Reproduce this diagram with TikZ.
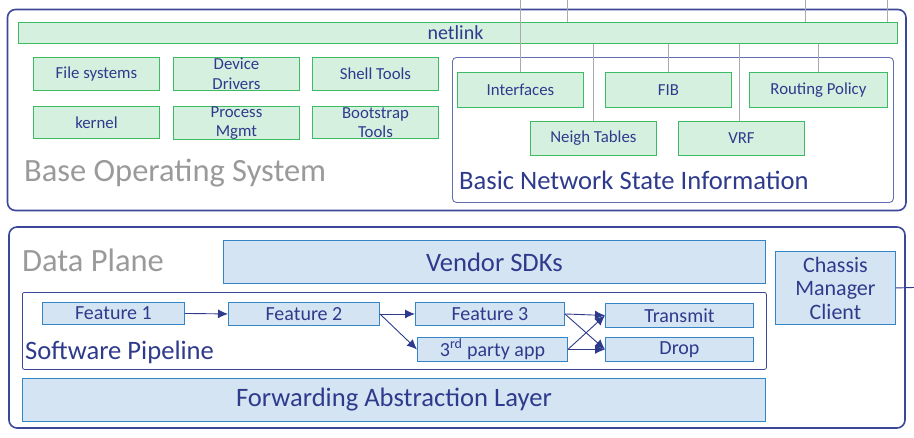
\documentclass[tikz,border=0pt]{standalone}
\usepackage{fontspec}
\setmainfont{Carlito}
\usetikzlibrary{arrows.meta}
\definecolor{dblue}{HTML}{2E3A8C}
\definecolor{frame}{HTML}{3B4899}
\definecolor{gfill}{HTML}{D6F0E0}
\definecolor{gline}{HTML}{3DBB64}
\definecolor{bfill}{HTML}{D5E4F3}
\definecolor{bline}{HTML}{3485C6}
\definecolor{graytxt}{HTML}{9A9A9A}
\definecolor{wire}{HTML}{AAAAAA}
\tikzset{
  outer/.style={draw=frame, line width=1.6pt, rounded corners=8pt},
  inner/.style={draw=frame!80, line width=0.9pt, rounded corners=4pt},
  gbox/.style={draw=gline, fill=gfill, line width=0.9pt, text=dblue, font=\fontsize{16.8}{19.5}\selectfont, align=center, inner sep=0pt},
  bbox/.style={draw=bline, fill=bfill, line width=0.9pt, text=dblue, align=center, inner sep=0pt},
  wireln/.style={draw=wire, line width=0.9pt},
  flow/.style={draw=dblue, line width=0.9pt, -{Latex[length=10pt,width=9pt]}},
  midfont/.style={font=\fontsize{20}{22}\selectfont},
  bigfont/.style={font=\fontsize{26.6}{28}\selectfont},
  grayfont/.style={font=\fontsize{32.5}{34}\selectfont},
}
\begin{document}
\begin{tikzpicture}[x=1pt,y=-1pt]
\useasboundingbox (0,0) rectangle (914,437);
% ---------- top section
\draw[outer] (7.5,9.5) rectangle (906,210.5);
\node[inner, minimum width=441pt, minimum height=145pt, anchor=north west] (bnsi) at (452,57) {};
\coordinate (t1) at (520,0);
\coordinate (t2) at (567,0);
\coordinate (t3) at (805,0);
\coordinate (t4) at (887,0);
% netlink
\node[gbox, minimum width=879pt, minimum height=21.6pt, anchor=north west] (netlink) at (18,21.7) {};
\node[text=dblue, font=\fontsize{20}{22}\selectfont, inner sep=0pt] (netlinkl) at (455.5,33) {netlink};
% left boxes
\node[gbox, minimum width=126pt, minimum height=33pt, anchor=north west] (fs) at (33,57) {File systems};
\node[gbox, minimum width=126pt, minimum height=33pt, anchor=north west] (dd) at (173,57) {Device\\Drivers};
\node[gbox, minimum width=126pt, minimum height=33pt, anchor=north west] (st) at (312,57) {Shell Tools};
\node[gbox, minimum width=126pt, minimum height=32pt, anchor=north west] (kn) at (33,106) {kernel};
\node[gbox, minimum width=126pt, minimum height=32pt, anchor=north west] (pm) at (173,106) {Process\\Mgmt};
\node[gbox, minimum width=126pt, minimum height=32pt, anchor=north west] (bt) at (312,106) {Bootstrap\\Tools};
\node[text=graytxt, grayfont, anchor=west, inner sep=0pt] (bos) at (24,173) {Base Operating System};
% network state boxes
\node[gbox, minimum width=126pt, minimum height=35pt, anchor=north west] (ifc) at (457,72) {Interfaces};
\node[gbox, minimum width=126pt, minimum height=35pt, anchor=north west] (fib) at (605,72) {FIB};
\node[gbox, minimum width=138pt, minimum height=35pt, anchor=north west] (rp) at (749,72) {Routing Policy};
\node[gbox, minimum width=126pt, minimum height=34pt, anchor=north west] (nt) at (530,121) {Neigh Tables};
\node[gbox, minimum width=126pt, minimum height=34pt, anchor=north west] (vrf) at (678,121) {VRF};
\node[text=dblue, bigfont, anchor=west, inner sep=0pt] (bnsil) at (459,180) {Basic Network State Information};
% wires
\draw[wireln] (t1) -- (ifc.north -| t1);
\draw[wireln] (t2) -- (netlink.north -| t2);
\draw[wireln] (t3) -- (netlink.north -| t3);
\draw[wireln] (t4) -- (netlink.north -| t4);
\draw[wireln] (netlink.south -| nt.north) -- (nt.north);
\draw[wireln] (netlink.south -| fib.north) -- (fib.north);
\draw[wireln] (netlink.south -| 739,0) -- (vrf.north -| 739,0);
\draw[wireln] (netlink.south -| rp.north) -- (rp.north);
% ---------- bottom section
\draw[outer] (9,227) rectangle (905,428);
\node[text=graytxt, grayfont, anchor=west, inner sep=0pt] (dp) at (22,260) {Data Plane};
\node[bbox, bigfont, minimum width=542pt, minimum height=43pt, anchor=north west] (vsdk) at (223,240) {Vendor SDKs};
\node[inner, draw=frame, line width=0.8pt, rounded corners=2pt, minimum width=744pt, minimum height=77pt, anchor=north west] (swp) at (22,292) {};
\node[text=dblue, bigfont, anchor=west, inner sep=0pt] (swpl) at (25,352) {Software Pipeline};
\node[bbox, midfont, minimum width=142pt, minimum height=22pt, anchor=north west] (f1) at (42,302) {Feature 1};
\node[bbox, midfont, minimum width=151pt, minimum height=23pt, anchor=north west] (f2) at (228,302) {Feature 2};
\node[bbox, midfont, minimum width=149pt, minimum height=23pt, anchor=north west] (f3) at (415,302) {Feature 3};
\node[bbox, midfont, minimum width=150pt, minimum height=24pt, anchor=north west] (tp) at (417,337) {3\textsuperscript{rd} party app};
\node[bbox, midfont, minimum width=148pt, minimum height=24pt, anchor=north west] (tx) at (605,303) {Transmit};
\node[bbox, midfont, minimum width=148pt, minimum height=24pt, anchor=north west] (dr) at (605,337) {Drop};
\node[bbox, bigfont, minimum width=743pt, minimum height=43pt, anchor=north west] (fal) at (22,378) {Forwarding Abstraction Layer};
\node[bbox, font=\fontsize{22}{23.5}\selectfont, minimum width=120pt, minimum height=73pt, anchor=north west] (cmc) at (775,251) {Chassis\\Manager\\Client};
\coordinate (cmcr) at (914,287.5);
\draw[draw=dblue, line width=0.9pt] (cmc.east) -- (cmcr);
% arrows
\draw[flow] (f1.east) -- (f2.west);
\draw[flow] (f2.east) -- (f3.west);
\draw[flow] (f2.east) -- (tp.west);
\draw[flow] (f3.east) -- (tx.west);
\draw[flow] (f3.east) -- (dr.west);
\draw[flow] (tp.east) -- (tx.west);
\draw[flow] (tp.east) -- (dr.west);
\end{tikzpicture}
\end{document}
